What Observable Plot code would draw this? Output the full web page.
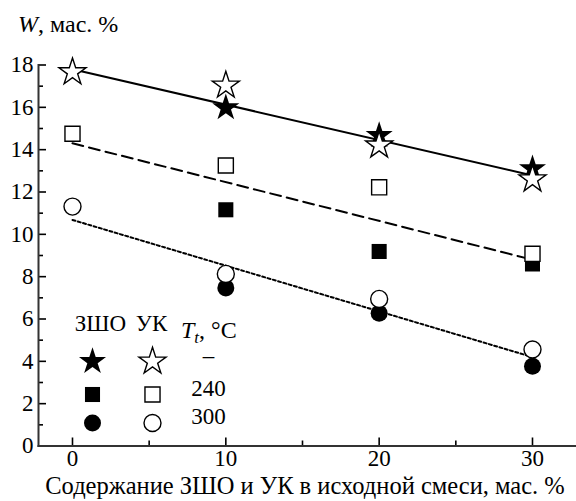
<!DOCTYPE html>
<html><head><meta charset="utf-8">
<script src="https://cdn.jsdelivr.net/npm/d3@7"></script>
<script src="https://cdn.jsdelivr.net/npm/@observablehq/plot@0.6"></script>
<style>
html,body{margin:0;padding:0;background:#fff;}
svg, svg text, svg tspan{font-family:"Liberation Serif","Times New Roman",serif !important;}
</style></head>
<body><div id="chart"></div>
<script>
// ---- data ----
const xValues = [0, 10, 20, 30];
const starFilled = [null, 15.98, 14.67, 13.1];
const starOpen = [17.66, 17.03, 14.2, 12.6];
const squareFilled = [null, 11.16, 9.19, 8.6];
const squareOpen = [14.75, 13.25, 12.22, 9.08];
const circleFilled = [null, 7.47, 6.27, 3.77];
const circleOpen = [11.31, 8.13, 6.95, 4.56];
const fitX = [0, 30];
const fitSolid = [17.8, 12.78];
const fitDashed = [14.3, 8.8];
const fitDotted = [10.68, 4.2];
const yTicksMajor = [0, 2, 4, 6, 8, 10, 12, 14, 16, 18];
const yTicksMinor = [1, 3, 5, 7, 9, 11, 13, 15, 17];
const xTicksMajor = [0, 10, 20, 30];
const xTicksMinor = [5, 15, 25];
const legendHeader = ["ЗШО", "УК"];
const legendTemps = ["–", "240", "300"];
const xLabel = "Содержание ЗШО и УК в исходной смеси, мас. %";

const pts = (ys) => xValues.map((x, i) => ({x, y: ys[i]})).filter(d => d.y != null);
const fit = (ys) => fitX.map((x, i) => ({x, y: ys[i]}));

const R = 8.5;
const FS = 23;
const filled = {fill: "black", stroke: "none"};
const open = {fill: "white", stroke: "black", strokeWidth: 1.4};

// legend layout (pixel offsets from bottom-left corner of the frame)
const legendSymbols = ["star", "square", "circle"];
const rowDy = [-84.5, -51.5, -23];
const colFilledDx = 54, colOpenDx = 114, colTextDx = 170;

const legendMarks = [];
legendSymbols.forEach((s, i) => {
  legendMarks.push(Plot.dot([0], {frameAnchor: "bottom-left", dx: colFilledDx, dy: rowDy[i], symbol: () => s, r: R, ...filled}));
  legendMarks.push(Plot.dot([0], {frameAnchor: "bottom-left", dx: colOpenDx, dy: rowDy[i], symbol: () => s, r: R, ...open}));
  legendMarks.push(Plot.text([legendTemps[i]], {frameAnchor: "bottom-left", dx: colTextDx, dy: rowDy[i] + 1, text: d => d, fontSize: FS, textAnchor: "middle", fill: "black"}));
});
legendMarks.push(Plot.text([legendHeader[0]], {frameAnchor: "bottom-left", dx: 62, dy: -115, text: d => d, fontSize: FS, textAnchor: "middle"}));
legendMarks.push(Plot.text([legendHeader[1]], {frameAnchor: "bottom-left", dx: 113, dy: -115, text: d => d, fontSize: FS, textAnchor: "middle"}));

const plot = Plot.plot({
  width: 576,
  height: 501,
  marginLeft: 38,
  marginRight: 0,
  marginTop: 64.5,
  marginBottom: 55.5,
  style: {background: "white", color: "black"},
  x: {domain: [-2.217, 32.87]},
  y: {domain: [0, 18]},
  marks: [
    Plot.axisY({ticks: yTicksMajor, tickSize: -8, tickPadding: 13, strokeWidth: 1.6, fontSize: FS, label: null}),
    Plot.axisY({ticks: yTicksMinor, tickSize: -5, tickFormat: () => "", strokeWidth: 1.6, label: null}),
    Plot.axisX({ticks: xTicksMajor, tickSize: -8, tickPadding: 12, strokeWidth: 1.6, fontSize: FS, label: null}),
    Plot.axisX({ticks: xTicksMinor, tickSize: -5, tickFormat: () => "", strokeWidth: 1.6, label: null}),
    Plot.frame({anchor: "left", stroke: "#333", strokeWidth: 2}),
    Plot.frame({anchor: "bottom", stroke: "#333", strokeWidth: 2}),
    Plot.line(fit(fitSolid), {x: "x", y: "y", stroke: "black", strokeWidth: 2}),
    Plot.line(fit(fitDashed), {x: "x", y: "y", stroke: "black", strokeWidth: 2, strokeDasharray: "11,6"}),
    Plot.line(fit(fitDotted), {x: "x", y: "y", stroke: "black", strokeWidth: 2, strokeDasharray: "3,2.5"}),
    Plot.dot(pts(starFilled), {x: "x", y: "y", symbol: "star", r: R, ...filled}),
    Plot.dot(pts(squareFilled), {x: "x", y: "y", symbol: "square", r: R, ...filled}),
    Plot.dot(pts(circleFilled), {x: "x", y: "y", symbol: "circle", r: R, ...filled}),
    Plot.dot(pts(starOpen), {x: "x", y: "y", symbol: "star", r: R, ...open}),
    Plot.dot(pts(squareOpen), {x: "x", y: "y", symbol: "square", r: R, ...open}),
    Plot.dot(pts(circleOpen), {x: "x", y: "y", symbol: "circle", r: R, ...open}),
    ...legendMarks,
    Plot.text([xLabel], {frameAnchor: "bottom", dx: -2.5, dy: 47.5, text: d => d, fontSize: 24.5})
  ]
});

plot.setAttribute("font-family", "Liberation Serif, serif");
plot.setAttribute("font-size", FS);
const svg = d3.select(plot);
// y-axis title with italic W
const yt = svg.append("text").attr("x", 18).attr("y", 32).attr("font-size", FS + 1).attr("fill", "black").attr("text-anchor", "start");
yt.append("tspan").attr("font-style", "italic").text("W");
yt.append("tspan").text(", мас. %");
// legend header T_t, °C
const tt = svg.append("text").attr("x", 181).attr("y", 338).attr("font-size", FS + 1).attr("fill", "black").attr("text-anchor", "start");
tt.append("tspan").attr("font-style", "italic").text("T");
tt.append("tspan").attr("font-style", "italic").attr("font-size", 17).attr("dy", 5).text("t");
tt.append("tspan").attr("dy", -5).text(", °C");

document.getElementById("chart").appendChild(plot);
</script>
</body></html>
